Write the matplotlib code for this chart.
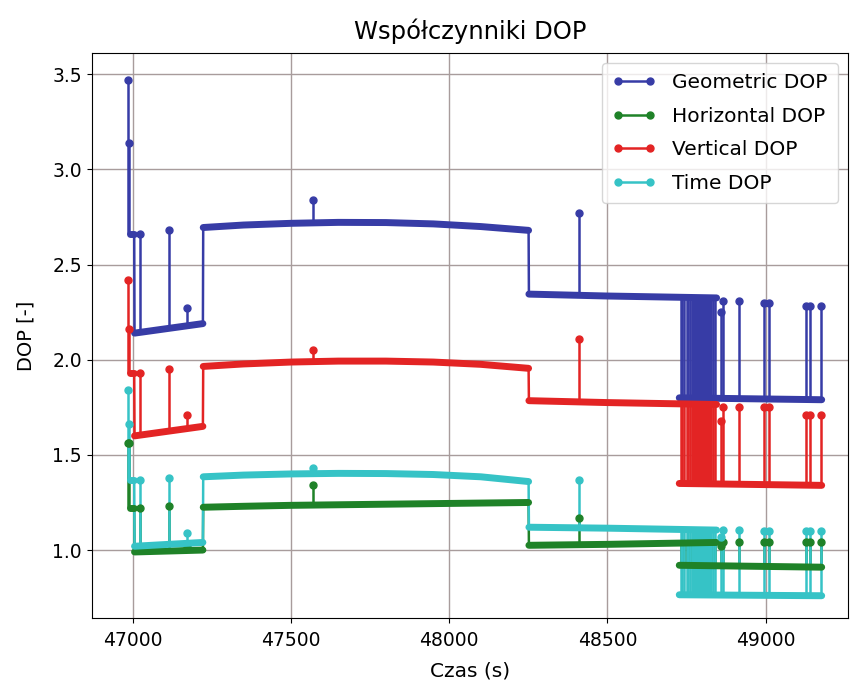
# DOP coefficients vs time (GPS epochs)

import numpy as np
import matplotlib.pyplot as plt
from matplotlib.lines import Line2D

# level runs of each series: times [s] and values, one sub-list per run
seg_t = [[46991, 47005],
         [47006, 47222],
         [47223, 47350, 47500, 47650, 47800, 47950, 48100, 48251],
         [48252, 48500, 48845]]
gdop_seg = [[2.66, 2.66], [2.14, 2.19],
            [2.695, 2.708, 2.717, 2.722, 2.721, 2.714, 2.70, 2.68],
            [2.345, 2.335, 2.325]]
hdop_seg = [[1.22, 1.22], [0.99, 1.00],
            [1.225, 1.23, 1.235, 1.238, 1.241, 1.244, 1.247, 1.25],
            [1.025, 1.03, 1.04]]
vdop_seg = [[1.93, 1.93], [1.60, 1.65],
            [1.965, 1.978, 1.988, 1.993, 1.993, 1.988, 1.976, 1.955],
            [1.785, 1.775, 1.765]]
tdop_seg = [[1.37, 1.37], [1.02, 1.04],
            [1.385, 1.394, 1.40, 1.403, 1.402, 1.397, 1.385, 1.36],
            [1.12, 1.115, 1.105]]

# low state after the satellite change
lo_t = [48727, 49177]
gdop_lo = [1.80, 1.79]
hdop_lo = [0.92, 0.91]
vdop_lo = [1.35, 1.34]
tdop_lo = [0.765, 0.76]

# epochs toggling between the two states (dense block)
switch_t = [48731, 48735, 48743, 48750, 48756, 48762, 48768, 48771, 48774, 48778,
            48781, 48784, 48786, 48790, 48793, 48796, 48799, 48803, 48806, 48809,
            48812, 48815, 48818, 48821, 48825, 48828, 48834, 48840]

# single-epoch spikes: time, peak and foot
spike_t = [46986, 46989, 47022, 47114, 47171, 47569, 48410,
           48859, 48866, 48916, 48996, 49009, 49127, 49141, 49175]
gdop_peak = [3.47, 3.14, 2.66, 2.68, 2.27, 2.84, 2.77,
             2.25, 2.31, 2.31, 2.30, 2.30, 2.28, 2.28, 2.28]
gdop_foot = [2.66, 2.66, 2.14, 2.16, 2.17, 2.72, 2.34,
             1.80, 1.80, 1.80, 1.79, 1.79, 1.79, 1.79, 1.79]
hdop_peak = [1.56, 1.56, 1.22, 1.23, 1.02, 1.34, 1.17,
             1.02, 1.04, 1.04, 1.04, 1.04, 1.04, 1.04, 1.04]
hdop_foot = [1.22, 1.22, 0.99, 0.99, 1.00, 1.24, 1.03,
             0.92, 0.92, 0.92, 0.91, 0.91, 0.91, 0.91, 0.91]
vdop_peak = [2.42, 2.16, 1.93, 1.95, 1.71, 2.05, 2.11,
             1.68, 1.75, 1.75, 1.75, 1.75, 1.71, 1.71, 1.71]
vdop_foot = [1.93, 1.93, 1.60, 1.62, 1.63, 1.99, 1.78,
             1.35, 1.35, 1.35, 1.34, 1.34, 1.34, 1.34, 1.34]
tdop_peak = [1.84, 1.66, 1.37, 1.38, 1.09, 1.43, 1.37,
             1.07, 1.105, 1.105, 1.10, 1.10, 1.10, 1.10, 1.10]
tdop_foot = [1.37, 1.37, 1.02, 1.03, 1.03, 1.40, 1.115,
             0.765, 0.765, 0.765, 0.76, 0.76, 0.76, 0.76, 0.76]

labels = ["Geometric DOP", "Horizontal DOP", "Vertical DOP", "Time DOP"]
colors = ['#373ca6', '#1f8228', '#e32424', '#36c3c6']


def draw_series(ax, segs, lo, peak, foot, col):
    # thin connection through the level runs (jumps)
    tt = [t for s in seg_t for t in s]
    vv = [v for s in segs for v in s]
    ax.plot(tt, vv, '-', color=col, lw=1.8, zorder=2)
    # the runs themselves look thick because of the dense markers
    for ts, vs in zip(seg_t, segs):
        ax.plot(ts, vs, '-', color=col, lw=5, solid_capstyle='round',
                solid_joinstyle='round', zorder=3)
    ax.plot(lo_t, lo, '-', color=col, lw=5, solid_capstyle='round', zorder=3)
    ax.vlines(switch_t, lo[0], segs[-1][-1], color=col, lw=1.8, zorder=2)
    ax.vlines(spike_t, foot, peak, color=col, lw=1.8, zorder=2)
    ax.plot(spike_t, peak, 'o', color=col, ms=5, zorder=3)


def main():
    plt.rcParams['font.family'] = 'DejaVu Sans'
    fig, ax = plt.subplots(figsize=(8.5, 6.84), dpi=100)
    fig.subplots_adjust(left=0.108, right=0.9976, top=0.9225, bottom=0.0965)

    draw_series(ax, gdop_seg, gdop_lo, gdop_peak, gdop_foot, colors[0])
    draw_series(ax, hdop_seg, hdop_lo, hdop_peak, hdop_foot, colors[1])
    draw_series(ax, vdop_seg, vdop_lo, vdop_peak, vdop_foot, colors[2])
    draw_series(ax, tdop_seg, tdop_lo, tdop_peak, tdop_foot, colors[3])

    ax.set_xlim(46871, 49260)
    ax.set_ylim(0.643, 3.612)
    ax.set_xticks([47000, 47500, 48000, 48500, 49000])
    ax.set_yticks([1.0, 1.5, 2.0, 2.5, 3.0, 3.5])
    ax.tick_params(labelsize=13.5)
    ax.tick_params(axis='x', pad=6)
    ax.grid(True, color='#a89c9c', lw=1.0)
    ax.set_axisbelow(True)

    ax.set_title("Współczynniki DOP", fontsize=17.5, pad=10)
    ax.set_xlabel("Czas (s)", fontsize=14.5, labelpad=8)
    ax.set_ylabel("DOP [-]", fontsize=14, labelpad=12)

    handles = [Line2D([], [], color=c, lw=1.8, marker='o', ms=5) for c in colors]
    ax.legend(handles, labels, loc='upper right', numpoints=2, fontsize=14.5,
              handlelength=2.2, borderaxespad=0.5, labelspacing=0.72,
              borderpad=0.5)

    plt.savefig("out.png", dpi=100)


if __name__ == '__main__':
    main()
